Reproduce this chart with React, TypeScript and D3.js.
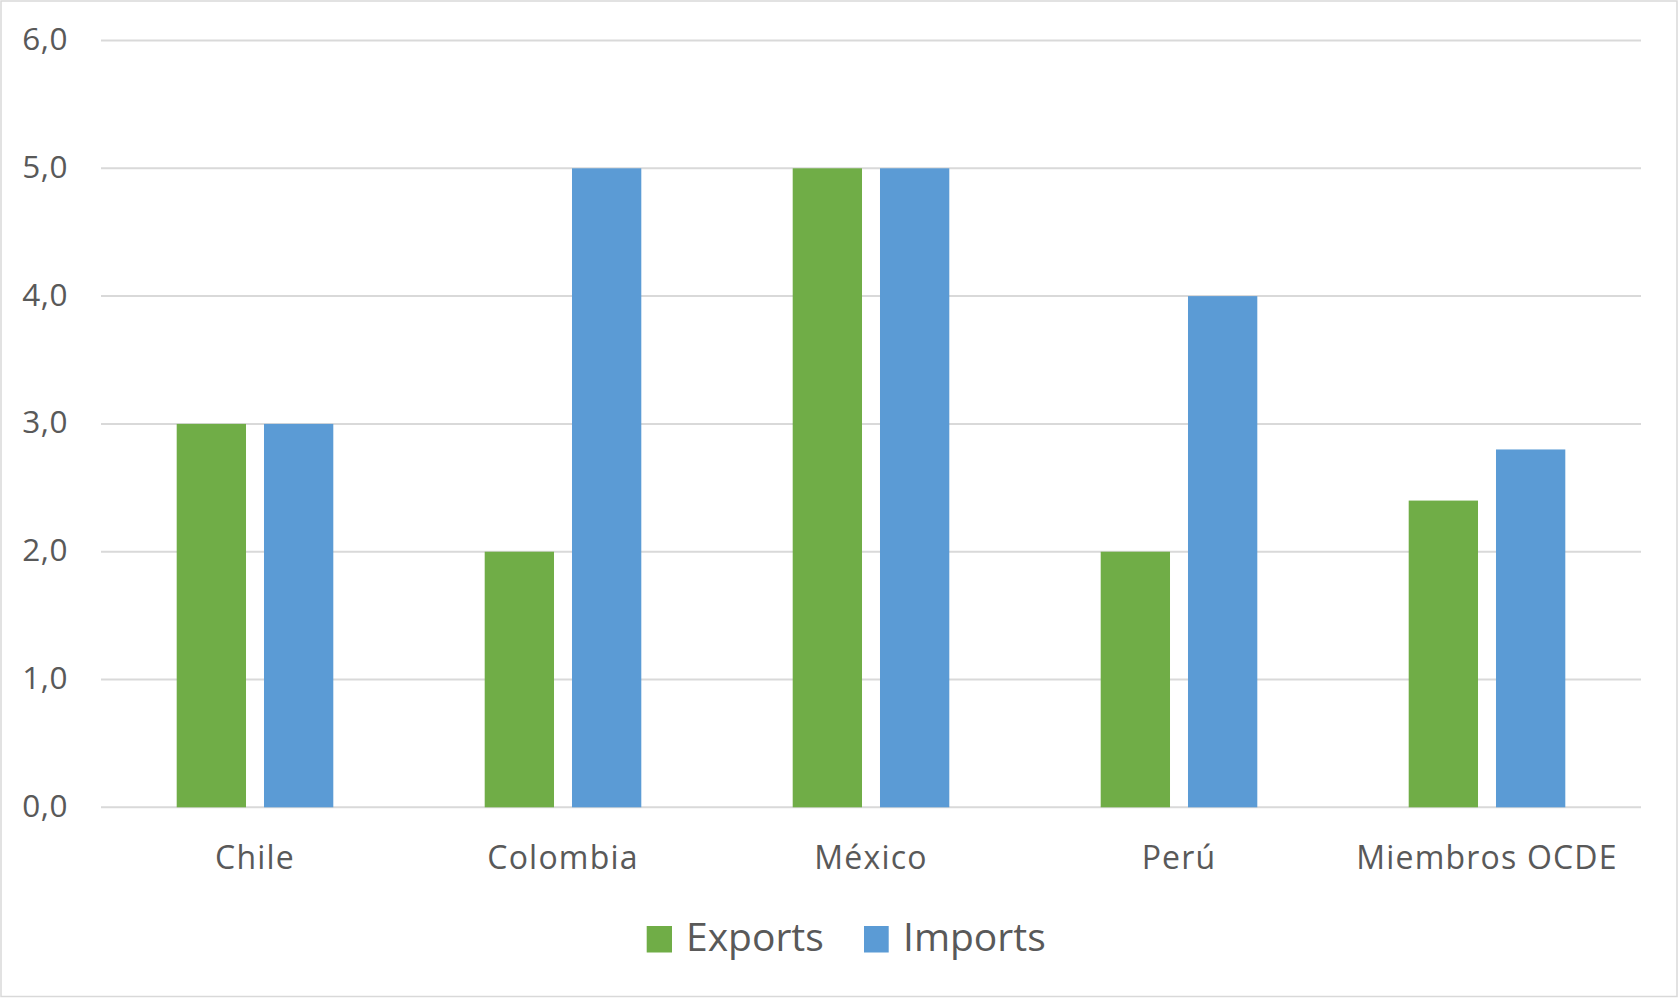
import React from "react";
import * as d3 from "d3";

const categories = ["Chile", "Colombia", "México", "Perú", "Miembros OCDE"];
const seriesNames = ["Exports", "Imports"];
const exportsValues = [3.0, 2.0, 5.0, 2.0, 2.4];
const importsValues = [3.0, 5.0, 5.0, 4.0, 2.8];
const yTicks = [0, 1, 2, 3, 4, 5, 6];
const colors = ["#70AD47", "#5B9BD5"];

const W = 1678;
const H = 998;
const plotLeft = 101;
const plotRight = 1641;
const plotTop = 40.5;
const plotBottom = 807.3;
const FONT = "'Open Sans', 'Noto Sans', sans-serif";
const TEXT = "#595959";

export default function App() {
  const values = [exportsValues, importsValues];
  const x0 = d3.scaleBand<string>().domain(categories).range([plotLeft, plotRight]).padding(0);
  const groupW = 156.6;
  const x1 = d3
    .scaleBand<string>()
    .domain(seriesNames)
    .range([-groupW / 2, groupW / 2])
    .paddingInner(0.206)
    .paddingOuter(0);
  const y = d3.scaleLinear().domain([0, 6]).range([plotBottom, plotTop]);
  const fmt = (v: number) => d3.format(".1f")(v).replace(".", ",");

  return (
    <svg
      width={W}
      height={H}
      style={{ position: "absolute", left: 0, top: 0, background: "#fff" }}
    >
      <rect x={1} y={1} width={W - 2} height={H - 2.5} fill="#fff" stroke="#d9d9d9" strokeWidth={1.5} />
      {yTicks.map((t) => (
        <g key={t}>
          <line x1={plotLeft} x2={plotRight} y1={y(t)} y2={y(t)} stroke="#d9d9d9" strokeWidth={2} />
          <text
            x={68}
            y={y(t)}
            dy="0.3em"
            textAnchor="end"
            fontFamily={FONT}
            fontSize={31.5}
            letterSpacing={0.5}
            fill={TEXT}
          >
            {fmt(t)}
          </text>
        </g>
      ))}
      {categories.map((c, i) => {
        const cx = (x0(c) as number) + x0.bandwidth() / 2;
        return (
          <g key={c}>
            {seriesNames.map((s, si) => (
              <rect
                key={s}
                x={cx + (x1(s) as number)}
                y={y(values[si][i])}
                width={x1.bandwidth()}
                height={y(0) - y(values[si][i])}
                fill={colors[si]}
              />
            ))}
            <text
              x={cx}
              y={869}
              textAnchor="middle"
              fontFamily={FONT}
              fontSize={32}
              letterSpacing={1.2}
              fill={TEXT}
            >
              {c}
            </text>
          </g>
        );
      })}
      {/* Legend */}
      <g>
        <rect x={646.7} y={926} width={25.3} height={26.5} fill={colors[0]} />
        <text x={686} y={951} fontFamily={FONT} fontSize={39} fill={TEXT}>
          {seriesNames[0]}
        </text>
        <rect x={864} y={926} width={24.7} height={26.5} fill={colors[1]} />
        <text x={903} y={951} fontFamily={FONT} fontSize={39} fill={TEXT}>
          {seriesNames[1]}
        </text>
      </g>
    </svg>
  );
}
